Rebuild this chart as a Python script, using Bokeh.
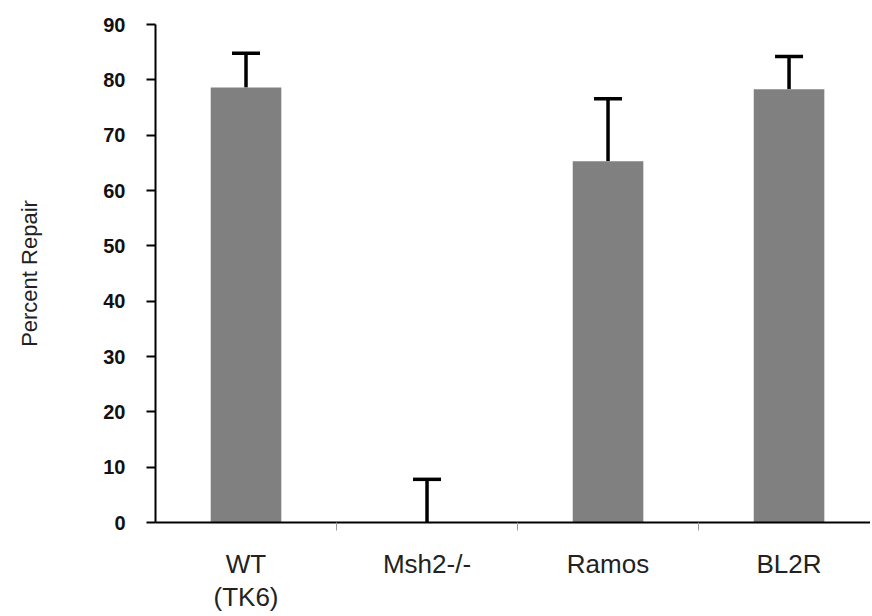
from bokeh.plotting import figure
from bokeh.models import (Range1d, FixedTicker, ColumnDataSource, Whisker, TeeHead)
from bokeh.embed import file_html
from bokeh.resources import INLINE

categories = ["WT\n(TK6)", "Msh2-/-", "Ramos", "BL2R"]
values = [78.6, 0.0, 65.3, 78.3]
errors = [6.2, 7.8, 11.3, 5.9]
y_ticks = [0, 10, 20, 30, 40, 50, 60, 70, 80, 90]

xs = [i + 0.5 for i in range(len(categories))]
src = ColumnDataSource(dict(
    x=xs, top=values,
    upper=[v + e for v, e in zip(values, errors)],
))

p = figure(width=870, height=616, output_backend="svg", toolbar_location=None,
           x_range=Range1d(0, 3.95), y_range=Range1d(0, 90),
           min_border_left=155, min_border_right=0, min_border_top=24,
           min_border_bottom=94)
p.outline_line_color = None
p.xgrid.visible = False
p.ygrid.visible = False
p.background_fill_color = "white"

p.vbar(x="x", top="top", width=0.39, source=src, fill_color="#808080",
       line_color=None)

w = Whisker(source=src, base="x", lower="top", upper="upper",
            line_color="black", line_width=3.5, lower_head=None,
            upper_head=TeeHead(size=28, line_width=3.5, line_color="black"))
p.add_layout(w)

# y axis
ya = p.yaxis[0]
ya.ticker = FixedTicker(ticks=y_ticks)
ya.minor_tick_line_color = None
ya.major_tick_in = 0
ya.major_tick_out = 9
ya.major_tick_line_width = 2
ya.major_tick_line_color = "black"
ya.axis_line_width = 2
ya.axis_line_color = "black"
ya.major_label_text_font = "Liberation Sans"
ya.major_label_text_font_style = "bold"
ya.major_label_text_font_size = "20px"
ya.major_label_text_color = "#111111"
ya.major_label_standoff = 21
ya.axis_label = "Percent Repair"
ya.axis_label_text_font = "Liberation Sans"
ya.axis_label_text_font_style = "normal"
ya.axis_label_text_font_size = "22px"
ya.axis_label_text_color = "#222222"
ya.axis_label_standoff = 58

# x axis
xa = p.xaxis[0]
xa.ticker = FixedTicker(ticks=xs, minor_ticks=[1, 2, 3])
xa.major_label_overrides = {x: c for x, c in zip(xs, categories)}
xa.major_tick_line_color = None
xa.major_tick_in = 0
xa.major_tick_out = 0
xa.minor_tick_in = 0
xa.minor_tick_out = 8
xa.minor_tick_line_color = "#999999"
xa.minor_tick_line_width = 1
xa.axis_line_width = 2
xa.axis_line_color = "black"
xa.major_label_text_font = "Liberation Sans"
xa.major_label_text_font_size = "26px"
xa.major_label_text_line_height = 1.1
xa.major_label_text_color = "#222222"
xa.major_label_standoff = 18

open("out.html", "w").write(file_html(p, INLINE))
